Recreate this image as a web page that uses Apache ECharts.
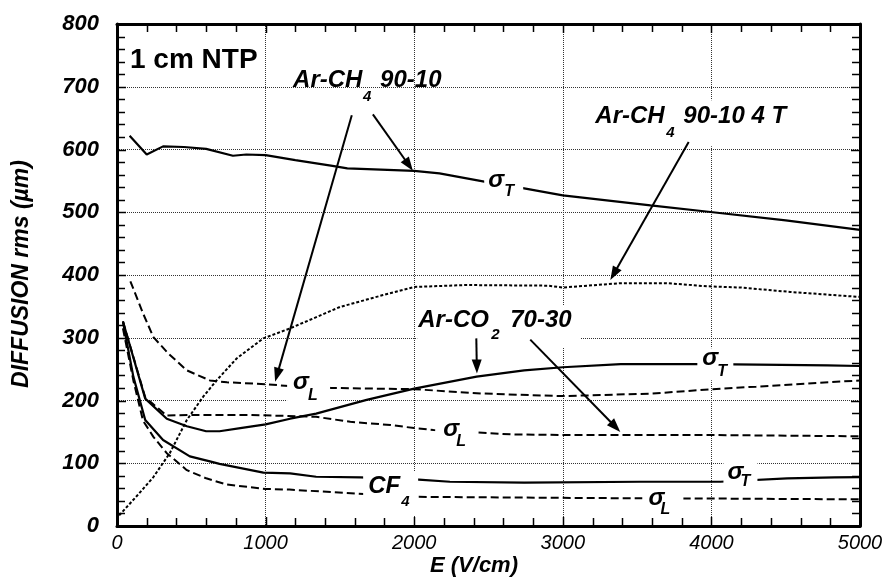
<!DOCTYPE html>
<html><head><meta charset="utf-8">
<script src="https://cdn.jsdelivr.net/npm/echarts@6/dist/echarts.min.js"></script>
<style>
html,body{margin:0;padding:0;background:#fff}
#wrap{position:relative;width:887px;height:579px}
#c,#o{position:absolute;left:0;top:0;width:887px;height:579px}
#o{pointer-events:none}
</style>
</head><body><div id="wrap"><div id="c"></div><div id="o"></div></div>
<script>
// ---------- data (E in V/cm, diffusion in µm) ----------
const xTickLabels = ['0','1000','2000','3000','4000','5000'];
const yTickLabels = ['0','100','200','300','400','500','600','700','800'];

const arCH4_sigT_E = [85, 200, 310, 450, 600, 780, 870, 1000, 1200, 1450, 1550, 2000, 2170, 2490, 2740, 3000, 3590, 4010, 4500, 5000];
const arCH4_sigT_v = [622, 592, 605, 604, 601, 590, 592, 591, 583, 574, 570, 566, 562, 548, 538, 527, 511, 500, 487, 472];

const arCH4_sigL_E = [90, 140, 175, 245, 345, 470, 625, 740, 1000, 1160, 1440, 2000, 2470, 3000, 3600, 4000, 4300, 5000];
const arCH4_sigL_v = [390, 360, 339, 301, 275, 248, 232, 229, 226, 223, 220, 218, 211, 207, 211, 218, 222, 232];

const arCH4_4T_E = [15, 130, 245, 355, 470, 580, 670, 805, 985, 1165, 1500, 1790, 2000, 2350, 2900, 3000, 3390, 3700, 3970, 4200, 4530, 5000];
const arCH4_4T_v = [17, 47, 78, 116, 169, 206, 232, 267, 299, 315, 349, 368, 381, 384, 383, 380, 387, 387, 382, 380, 373, 365];

const arCO2_sigT_E = [40, 190, 335, 470, 600, 690, 830, 1000, 1165, 1340, 1680, 2000, 2420, 2740, 3000, 3390, 4000, 4780, 5000];
const arCO2_sigT_v = [326, 203, 171, 159, 151, 151, 156, 162, 171, 179, 201, 219, 238, 248, 253, 258, 258, 256, 255];

const arCO2_sigL_E = [40, 190, 335, 500, 900, 1340, 1570, 1840, 2000, 2130, 2420, 2650, 3000, 3390, 4000, 5000];
const arCO2_sigL_v = [326, 205, 176, 177, 177, 174, 166, 161, 156, 153, 149, 146, 145, 145, 145, 143];

const cf4_sigT_E = [40, 110, 190, 310, 490, 625, 690, 985, 1165, 1340, 1640, 2030, 2240, 2740, 3520, 4060, 4510, 4830, 5000];
const cf4_sigT_v = [326, 238, 169, 137, 111, 103, 99, 85, 84, 78.5, 77.5, 74, 70.5, 69, 70.5, 70.5, 76, 77.5, 78];

const cf4_sigL_E = [40, 110, 175, 245, 335, 470, 600, 740, 1000, 1160, 1660, 2030, 2920, 3570, 3810, 5000];
const cf4_sigL_v = [315, 232, 168, 142, 116, 89, 76, 66, 59, 58, 51, 46.5, 45, 44, 44, 42.5];

// axis ranges / steps
const X_MAX = 5000, X_STEP = 1000, X_MINOR = 200;
const Y_MAX = 800, Y_STEP = 100, Y_MINOR = 20;

// ---------- chart ----------
const FONT = '"Liberation Sans", Arial, Helvetica, sans-serif';
const zip = (a, b) => a.map((x, i) => [x, b[i]]);

function lineSeries(E, v, type, width) {
  return {
    type: 'line', data: zip(E, v), showSymbol: false, symbol: 'none', smooth: false,
    animation: false, z: 3,
    lineStyle: { color: '#000', width: width, type: type }
  };
}

const axisLineCfg = () => ({ show: true, onZero: false, lineStyle: { color: '#000', width: 3 } });
const gridCfg = () => ({ show: true, lineStyle: { color: '#333', width: 1, type: 'dotted' } });

const option = {
  animation: false,
  backgroundColor: '#fff',
  grid: { left: 117, right: 27, top: 24, bottom: 53 },
  xAxis: [
    {
      type: 'value', min: 0, max: X_MAX, interval: X_STEP, position: 'bottom',
      axisLine: axisLineCfg(), axisTick: { show: false }, minorTick: { show: false },
      axisLabel: {
        margin: 7, color: '#000', fontFamily: FONT, fontStyle: 'italic', fontWeight: 'normal', fontSize: 20,
        formatter: (val) => xTickLabels[Math.round(val / X_STEP)] ?? ''
      },
      splitLine: gridCfg()
    },
    {
      type: 'value', min: 0, max: X_MAX, interval: X_STEP, position: 'top',
      axisLine: axisLineCfg(), axisTick: { show: false }, minorTick: { show: false },
      axisLabel: { show: false }, splitLine: { show: false }
    }
  ],
  yAxis: [
    {
      type: 'value', min: 0, max: Y_MAX, interval: Y_STEP, position: 'left',
      axisLine: axisLineCfg(), axisTick: { show: false }, minorTick: { show: false },
      axisLabel: {
        margin: 18, color: '#000', fontFamily: FONT, fontStyle: 'italic', fontWeight: 'bold', fontSize: 22,
        padding: [0, 0, 6, 0],
        formatter: (val) => yTickLabels[Math.round(val / Y_STEP)] ?? ''
      },
      splitLine: gridCfg()
    },
    {
      type: 'value', min: 0, max: Y_MAX, interval: Y_STEP, position: 'right',
      axisLine: axisLineCfg(), axisTick: { show: false }, minorTick: { show: false },
      axisLabel: { show: false }, splitLine: { show: false }
    }
  ],
  series: [
    lineSeries(arCH4_sigT_E, arCH4_sigT_v, 'solid', 2.2),
    lineSeries(arCH4_sigL_E, arCH4_sigL_v, [8, 4], 2),
    lineSeries(arCH4_4T_E, arCH4_4T_v, [3, 2], 2),
    lineSeries(arCO2_sigT_E, arCO2_sigT_v, 'solid', 2.2),
    lineSeries(arCO2_sigL_E, arCO2_sigL_v, [8, 4], 2),
    lineSeries(cf4_sigT_E, cf4_sigT_v, 'solid', 2.2),
    lineSeries(cf4_sigL_E, cf4_sigL_v, [8, 4], 2)
  ]
};

const chart = echarts.init(document.getElementById('c'), null, { renderer: 'canvas' });
chart.setOption(option);

// ---------- overlay: ticks + annotations (anchored through the chart's own scales) ----------
const P = (e, v) => chart.convertToPixel({ gridIndex: 0 }, [e, v]);
const els = [];

// inward ticks on all four sides (ROOT-style frame)
const yBot = P(0, 0)[1], yTop = P(0, Y_MAX)[1];
const xLeft = P(0, 0)[0], xRight = P(X_MAX, 0)[0];
const tick = (x1, y1, x2, y2) => els.push({ type: 'line', z: 80, silent: true,
  shape: { x1, y1, x2, y2 }, style: { stroke: '#000', lineWidth: 1.5 } });
for (let e = X_MINOR; e < X_MAX; e += X_MINOR) {
  const x = Math.round(P(e, 0)[0]) + 0.5;
  const len = (e % X_STEP === 0) ? 9 : 8;
  tick(x, yBot, x, yBot - len);
  tick(x, yTop, x, yTop + len);
}
for (let v = Y_MINOR; v < Y_MAX; v += Y_MINOR) {
  const y = Math.round(P(0, v)[1]) + 0.5;
  const len = (v % Y_STEP === 0) ? 9 : 8;
  tick(xLeft, y, xLeft + len, y);
  tick(xRight, y, xRight - len, y);
}

const BIG = 'italic bold 24px ' + FONT;
const SUB = 'italic bold 15px ' + FONT;
const SIG = 'italic bold 24px ' + FONT;
const SIGSUB = 'italic bold 16px ' + FONT;

const labels = [
  { at: [87.5, 742], parts: [['1 cm NTP', 0, 0, 'bold 28px ' + FONT]] },
  { at: [1185, 710], parts: [['Ar-CH', 0, 0, BIG], ['4', 70, 16, SUB], ['90-10', 87, 0, BIG]] },
  { at: [3219, 653], box: [-5, -16, 205, 46], parts: [['Ar-CH', 0, 0, BIG], ['4', 71, 17, SUB], ['90-10 4 T', 88, 0, BIG]] },
  { at: [2027, 328], box: [-1, -15, 163, 42], parts: [['Ar-CO', 0, 0, BIG], ['2', 73, 15, SUB], ['70-30', 92, 0, BIG]] },
  { at: [1690, 63.7], box: [-5, -14, 55, 43], parts: [['CF', 0, 0, BIG], ['4', 33, 16, SUB]] },
  { at: [2498, 551], box: [-4, -12, 39, 32], parts: [['σ', 0, 0, SIG], ['T', 16, 11, SIGSUB]] },
  { at: [1185, 229], box: [-6, -10, 43, 32], parts: [['σ', 0, 0, SIG], ['L', 15, 13, SIGSUB]] },
  { at: [3939, 267.5], box: [-5, -10, 36, 32], parts: [['σ', 0, 0, SIG], ['T', 15, 13, SIGSUB]] },
  { at: [2195, 154.5], box: [-8, -11, 41, 34], parts: [['σ', 0, 0, SIG], ['L', 13, 13, SIGSUB]] },
  { at: [4108, 86], box: [-4, -12, 34, 32], parts: [['σ', 0, 0, SIG], ['T', 13, 10, SIGSUB]] },
  { at: [3576, 44.6], box: [-6, -8, 41, 25], parts: [['σ', 0, 0, SIG], ['L', 12, 12, SIGSUB]] }
];

const arrows = [
  { from: [1722, 656], to: [1991, 566] },
  { from: [1580, 654.5], to: [1064, 230] },
  { from: [3847, 612], to: [3320, 392] },
  { from: [2418, 299], to: [2422, 243] },
  { from: [2781, 297], to: [3387, 150] }
];

labels.forEach(l => {
  const [ax, ay] = P(l.at[0], l.at[1]);
  if (l.box) {
    els.push({ type: 'rect', z: 90, silent: true,
      shape: { x: ax + l.box[0], y: ay + l.box[1], width: l.box[2], height: l.box[3] },
      style: { fill: '#fff' } });
  }
  l.parts.forEach(p => {
    els.push({ type: 'text', z: 100, silent: true, x: ax + p[1], y: ay + p[2],
      style: { text: p[0], font: p[3], fill: '#000', textAlign: 'left', textVerticalAlign: 'middle' } });
  });
});

arrows.forEach(a => {
  const [x1, y1] = P(a.from[0], a.from[1]);
  const [x2, y2] = P(a.to[0], a.to[1]);
  const dx = x2 - x1, dy = y2 - y1, L = Math.hypot(dx, dy);
  const ux = dx / L, uy = dy / L, hl = 14, hw = 5;
  const bx = x2 - ux * hl, by = y2 - uy * hl;
  els.push({ type: 'line', z: 110, silent: true, shape: { x1, y1, x2: bx + ux * 2, y2: by + uy * 2 },
    style: { stroke: '#000', lineWidth: 2 } });
  els.push({ type: 'polygon', z: 110, silent: true,
    shape: { points: [[x2, y2], [bx - uy * hw, by + ux * hw], [bx + uy * hw, by - ux * hw]] },
    style: { fill: '#000' } });
});

// axis titles
els.push({ type: 'text', z: 100, silent: true, x: 474, y: 566,
  style: { text: 'E (V/cm)', font: 'italic bold 22px ' + FONT, fill: '#000', textAlign: 'center', textVerticalAlign: 'middle' } });
els.push({ type: 'text', z: 100, silent: true, x: 22, y: 274, rotation: Math.PI / 2,
  style: { text: 'DIFFUSION rms (µm)', font: 'italic bold 23px ' + FONT, fill: '#000', textAlign: 'center', textVerticalAlign: 'middle' } });

const overlay = echarts.init(document.getElementById('o'), null, { renderer: 'canvas' });
overlay.setOption({ animation: false, backgroundColor: 'transparent', graphic: { elements: els } });
</script>
</body></html>
